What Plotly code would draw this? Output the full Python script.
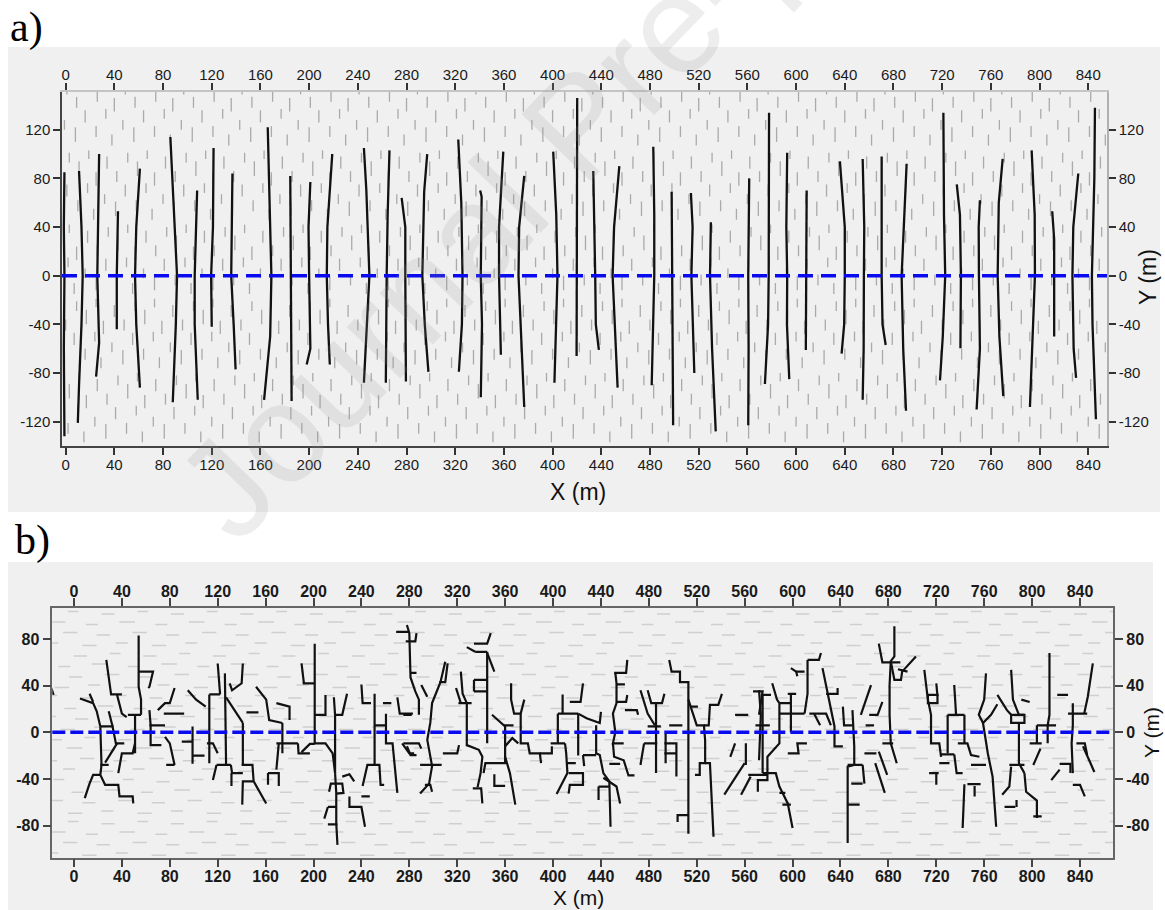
import plotly.graph_objects as go

W, H = 1165, 910

# ---------------- data ----------------
X_TICKS = [0, 40, 80, 120, 160, 200, 240, 280, 320, 360, 400, 440, 480, 520,
           560, 600, 640, 680, 720, 760, 800, 840]
X_TICK_TEXT = [str(v) for v in X_TICKS]
Y_TICKS_A = [120, 80, 40, 0, -40, -80, -120]
Y_TICK_TEXT_A = ["120", "80", "40", "0", "-40", "-80", "-120"]
Y_TICKS_B = [80, 40, 0, -40, -80]
Y_TICK_TEXT_B = ["80", "40", "0", "-40", "-80"]
BASELINE_Y = 0

# panel a: long sub-vertical fractures (x, y) in metres
FRACTURES_A = [
    [(-1, 85), (-1.5, 40), (-1, 0), (-1.5, -60), (-1, -132)],
    [(11, 86), (13, 40), (14, 0), (13, -40), (11, -90), (10, -121)],
    [(27.5, 100), (26.5, 40), (26, 0), (27.5, -55), (25, -83)],
    [(43, 53), (42, 0), (42, -44)],
    [(61, 88), (58, 40), (57, 0), (58, -40), (61, -92)],
    [(86, 114), (87.5, 80), (91.5, 0), (90.5, -40), (88, -104)],
    [(108, 70), (106, 0), (106, -40), (108.5, -102)],
    [(121.5, 105), (121, 40), (119.5, 0), (120, -42)],
    [(137, 84), (136, 0), (138, -40), (139.6, -77)],
    [(166, 122), (167, 80), (169, 0), (168, -50), (163, -102)],
    [(184.5, 82), (185, 0), (185.6, -103)],
    [(201, 77), (199.5, 40), (200, 0), (201, -60), (198, -73)],
    [(219, 100), (215, 40), (214.5, 0), (215.5, -40), (217, -73)],
    [(245, 105), (247, 70), (249.5, 0), (247.5, -40), (245, -88)],
    [(266, 103), (264.5, 50), (263.7, 0), (263.5, -40), (263, -88)],
    [(276, 64), (279, 40), (279, 0), (279.5, -87)],
    [(297, 100), (294.5, 69), (293, 0), (295, -40), (298, -79)],
    [(322.5, 112), (325, 60), (326, 0), (325.5, -40), (323, -79)],
    [(340.5, 70), (341.7, 65), (341, 0), (342, -40), (341, -100)],
    [(359.5, 102), (356, 40), (356, 0), (357.5, -65)],
    [(376.7, 82), (372.5, 40), (372, 0), (374, -50), (376.7, -108)],
    [(400.5, 102), (403, 50), (404, 0), (402.5, -50), (401.5, -88)],
    [(420.2, 146), (420, 60), (420.2, 0), (419.7, -66)],
    [(433.4, 86), (434.5, 40), (435, 0), (435.5, -40), (438, -61)],
    [(454.8, 90), (450.5, 40), (449.3, 0), (451, -40), (453.4, -92)],
    [(482.7, 106), (483.5, 50), (483.5, 0), (482.5, -50), (481.4, -90)],
    [(497.8, 69), (498.3, 0), (499, -60), (499, -123)],
    [(513.6, 68), (515, 40), (514, 0), (515, -40), (516.4, -80)],
    [(530, 44), (529.3, 0), (531, -60), (534, -128)],
    [(561.5, 80), (560.7, 0), (561, -60), (560.7, -123)],
    [(577.8, 134), (577.8, 50), (577.5, 0), (577, -40), (575, -80), (574.4, -89)],
    [(592.7, 101), (592, 40), (592.7, 0), (592.5, -40), (594.4, -85)],
    [(608.7, 70), (608, 0), (608, -61)],
    [(636, 94), (638, 70), (640, 40), (640, 0), (639.5, -40), (637.4, -64)],
    [(654.7, 96), (656, 40), (655.7, 0), (655.5, -60), (654.7, -102)],
    [(670.3, 98), (670, 40), (670.3, 0), (671, -40), (673.6, -57)],
    [(690.8, 92), (688.5, 40), (686.7, 0), (688, -60), (690.3, -111)],
    [(721, 134), (721.5, 50), (722.5, 0), (720.5, -50), (718.2, -86)],
    [(732, 75), (734.6, 50), (735.4, 0), (735, -59.7)],
    [(751, 62), (750, 40), (750.2, 0), (751, -60), (748.3, -110)],
    [(769.7, 96), (766.5, 60), (765.6, 0), (767, -50), (770.2, -99)],
    [(793.5, 103), (796, 50), (796.2, 0), (794, -60), (792.1, -108)],
    [(810.4, 53), (812, 30), (812, 0), (812, -50)],
    [(831.8, 84), (827.7, 40), (827, 0), (828, -60), (830, -84)],
    [(845.5, 138), (845, 80), (843, 0), (843.5, -40), (846.3, -118)],
]

# panel b: branching fracture network (x, y) in metres
NETWORK_B = [
    [(-19, 38), (-17, 32)],
    [(5, 29), (16, 25), (19, 18), (22, 5)],
    [(13, 33), (16, 26)],
    [(27, 62), (31, 32.5), (40, 32.5)],
    [(36, 32), (40, 16), (44, 13)],
    [(29, 18), (32, 6)],
    [(22, 5), (33, 5)],
    [(22, 5), (23, -28)],
    [(32, 6), (35, -9.5), (42, -9.5)],
    [(22, -28), (29, -28)],
    [(22, -36.5), (16, -36.5), (13, -44), (9, -56.5)],
    [(23, -28), (22, -36.5), (26, -45), (37, -45), (38, -55), (49, -55), (49.5, -61)],
    [(37, -35), (40, -18), (49, -18), (51, -9.5)],
    [(36, -9.5), (26, -26)],
    [(51, 15), (51, -18)],
    [(45, 15), (56, 15)],
    [(54, 83), (54, 39), (56, 28), (56, 15)],
    [(54, 52), (66, 52), (63, 39), (62, 38)],
    [(63, 19), (64, 6), (64, -11), (73, -11)],
    [(63, 6), (76, 6)],
    [(70, 19), (76, 25), (80, 25), (84, 38)],
    [(75, 16), (92, 16)],
    [(76, -4), (80, -9.5), (84, -28)],
    [(77, -28), (84, -28)],
    [(90, -8), (99, -8)],
    [(99, 5), (99, -27)],
    [(99, -20), (109, -20)],
    [(95, 36), (102, 28), (110, 22)],
    [(113, 32.5), (113, -26.5)],
    [(113, 32.5), (122, 32.5)],
    [(120, 59), (122, 32.5)],
    [(111, -9.5), (116, -9.5), (120, -18)],
    [(126, 50.5), (127, -28)],
    [(130, 42), (132, 36), (140, 42), (141, 59)],
    [(127, 30), (141, 8)],
    [(141, 8), (141, -28)],
    [(144, 17), (154, 17)],
    [(119, -28), (131, -28)],
    [(116, -41), (119, -28)],
    [(131, -28), (132, -35), (141, -35)],
    [(131.5, -35), (131.5, -46)],
    [(140, -28), (149, -28), (150, -42)],
    [(150, -42), (155, -51), (160.5, -61)],
    [(150, -42), (141, -42), (140.5, -62)],
    [(152, 39), (160.5, 28), (163, 10.5), (174, 8)],
    [(169, 25), (180, 22), (180, 10.5)],
    [(174, 8), (174, -18)],
    [(169, -9.5), (187, -9.5)],
    [(171, -9.5), (169, -32)],
    [(162, -35), (171, -35), (171, -46)],
    [(162, -35), (162, -45)],
    [(187, -9.5), (187.5, -18), (197, -18)],
    [(190, -17), (197, -10), (201, -10)],
    [(201, 76), (201, -9.5), (210, -9.5), (216, -18), (218, -35)],
    [(191, 42), (201, 42)],
    [(190, 59), (192, 42)],
    [(201, 15), (210, 15), (210, 32)],
    [(217, 30), (218, 15), (224, 15), (228, 33)],
    [(218, 15), (218, -35)],
    [(213, -51), (214.5, -44), (224, -44), (225, -52), (219, -52.5)],
    [(224, -38), (230, -36), (234, -42)],
    [(218, -35), (219, -52), (219, -78), (220, -96.5)],
    [(212, -64), (219, -64)],
    [(209, -74), (212, -64)],
    [(212, -79), (220, -79)],
    [(230, -55), (230, -64), (240, -64), (243, -81)],
    [(240, -55), (247, -55)],
    [(241, -46), (245, -28), (255, -28), (256, -45), (259, -45)],
    [(240, 41), (241, 25), (248, 25)],
    [(251, 33), (251, 6), (251, -28)],
    [(251, 6), (260, 6)],
    [(258, 25), (265, 25)],
    [(260.5, 16), (260.5, -9.5), (266, -9.5), (270, -52)],
    [(270, 30), (272, 16), (283, 16)],
    [(269, 86), (279, 86)],
    [(274, -9.5), (280, -18), (284, -18)],
    [(278, 92), (280, 85), (281, 47), (285, 35), (288, 28), (288, 15)],
    [(277, 78), (285, 78), (286, 85)],
    [(281, 51), (286, 51)],
    [(275, -9.5), (288, -9.5), (290, -14)],
    [(278, -12), (281, -19.5), (286, -19.5)],
    [(275, 15), (282, 15)],
    [(310, 60.5), (306, 43), (299, 25), (297.5, 8), (295, -6.5), (299, -29), (296.5, -44), (289, -52.5)],
    [(290, 40.5), (295, 30.5)],
    [(289, -28), (307, -28)],
    [(308, -18), (320, -18), (321.5, -11)],
    [(293, -45), (297.5, -45), (299, -51)],
    [(305, 43), (310, 43), (312, 59)],
    [(323, 52), (324.5, 33), (328, 25), (328, -12)],
    [(321, 25), (332, 25)],
    [(319, 38), (323, 25)],
    [(328, -11), (338, -15), (341, -21), (339.5, -35), (337, -47)],
    [(333, -48), (340, -48), (341, -61)],
    [(334, 76), (345, 76), (348, 85)],
    [(345, 69), (345, -9.5)],
    [(335, 69), (345, 69)],
    [(328, 73), (335, 69)],
    [(345, 68), (351, 52)],
    [(334, 45), (345, 45)],
    [(334, 35), (345, 35)],
    [(334, 45), (334, 35)],
    [(349, 15), (360, 5), (360, -26.5), (343.5, -26.5), (342, -35)],
    [(359, 6), (367, 6)],
    [(360, -12), (366, -5), (371, -9.5)],
    [(360, -21), (364, -35), (368.5, -62)],
    [(351, -36), (351, -46), (360, -46)],
    [(365, 42), (365, 28), (367.5, 16), (373, 16), (376, 28)],
    [(373, 16), (373, -9.5), (379, -9.5), (380.5, -18), (389, -18), (390, -26.5)],
    [(389, -18), (399, -18), (399, -12)],
    [(404, 16), (421, 16)],
    [(404, 16), (404, -9.5)],
    [(421, 16), (421, -20)],
    [(398, -9.5), (410, -9.5)],
    [(410, -9.5), (411, -18), (412, -35), (403, -53)],
    [(411, -26.5), (419, -26.5)],
    [(408, 32.5), (408, 16)],
    [(414, 26), (423, 26), (425, 42)],
    [(421, 16), (428, 12), (439, 8), (440, 17.5)],
    [(413, -35), (425, -35), (425, -45), (414, -45), (413, -52.5)],
    [(436, 6), (436, -18), (439, -19.5), (442, -35), (447, -42), (448, -81)],
    [(425, -19.5), (436, -19.5)],
    [(425, -19.5), (426, -29)],
    [(438, -46.5), (438, -58)],
    [(438, -46.5), (447, -46.5)],
    [(442, -39), (453, -46.5), (456, -61)],
    [(451, 51), (461, 51), (462, 62)],
    [(452, 51), (453, 42), (453, 25), (450, 16), (452, 0), (450, -9.5), (459, -9.5)],
    [(453, 41), (460, 41)],
    [(453, 26), (461, 26), (462, 32)],
    [(460, 19), (470, 19), (471, 15)],
    [(450, -9.5), (451, -21), (459, -24), (463, -37), (468, -37)],
    [(447, -27), (456, -27)],
    [(473, 36), (479, 16), (485, 6)],
    [(479, 36), (482, 25), (491, 25), (493, 33)],
    [(486, 25), (486, 5), (486, -9.5), (486, -35)],
    [(479, 5), (490, 5)],
    [(476, -9.5), (473, -28)],
    [(476, -9.5), (487, -9.5)],
    [(493, -9.5), (503, -9.5), (503, -38)],
    [(493, -18), (503, -18)],
    [(494, -1), (494, -26.5)],
    [(497, 6), (508, 6)],
    [(497, 62), (499, 52), (506, 52), (506, 43), (513, 43), (513, 28), (513, 8), (513, -87)],
    [(513, -71), (504, -71), (504, -77)],
    [(513, 28), (517, 16), (520, 6), (526, 6), (527, -7), (527, -26.5), (522.5, -26.5), (522.5, -36.5), (518.5, -36.5)],
    [(527, -26.5), (531, -26.5), (534, -89.5)],
    [(526, 6), (530, 6), (531, 23.5), (538, 23.5), (541, 33)],
    [(514.5, 22), (521, 22)],
    [(552, -9.5), (548, -21)],
    [(561, -9.5), (561, -28)],
    [(552, 15), (563, 15)],
    [(567, 35), (575, 35), (572, 15)],
    [(560, -26.5), (543, -53.5)],
    [(563, -36.5), (579, -36.5)],
    [(565, -38), (557, -53.5)],
    [(569, 6), (581, 6)],
    [(572, 36), (573.5, 15), (572, -24)],
    [(573.5, 32), (582, 32)],
    [(575, 32), (575, -35)],
    [(575, -35), (579, -35), (579, -41), (571, -41), (571, -51)],
    [(583, 42), (587, 28), (589, 25)],
    [(589, 25), (598.6, 25)],
    [(596, 33), (603, 33)],
    [(598.6, 33), (598.6, 0)],
    [(589, 16), (610, 16)],
    [(589, 25), (589, -9.5), (579, -21), (579, -35)],
    [(596, -18), (605, -18), (604, -9.5), (612, -9.5)],
    [(579, -35), (586, -35), (589, -46.5), (596, -61), (600, -82)],
    [(589, -52), (594, -52)],
    [(591.5, -62), (598.6, -62)],
    [(598.6, 55), (603, 52), (604, 48)],
    [(603, 52), (610, 52)],
    [(612.5, 62), (612.5, 33), (610, 16)],
    [(612.5, 62), (622, 62), (623.7, 68)],
    [(614, 16), (628, 16), (632, 6)],
    [(618, 16), (623, 6)],
    [(625, 55), (630.6, 26), (633, 15), (635, 5), (635, -12), (642, -12)],
    [(628, 33), (637.6, 33), (637.6, 38)],
    [(642, 22), (643, 6), (650, 6)],
    [(650, 19), (651.5, -12), (651.5, -28), (646, -29.5), (646, -95)],
    [(646, -28), (658.5, -28)],
    [(646, -62), (656, -62)],
    [(649, -44), (658.5, -44)],
    [(658.5, -28), (660, -44)],
    [(657, 15), (665.5, 40.5)],
    [(661, 6), (668, 6)],
    [(664, 15), (671, 15), (675, 26)],
    [(660, -18), (670, -18)],
    [(669, -26.5), (677, -52)],
    [(672, -16.5), (679, -36.5)],
    [(685, 91), (685, 65), (682, 61), (681, 40.5), (681, 15), (682, -9.5), (687, -26.5)],
    [(672, 76), (675, 60), (690, 60)],
    [(682, 61), (685, 45), (690.5, 45), (691.5, 52), (703, 65)],
    [(688, 54), (696, 52)],
    [(675, -9.5), (684, -9.5)],
    [(710, 53.5), (713, 28), (715.6, 15), (715.6, -9.5), (722.5, -9.5), (724, -21)],
    [(713, 32), (721, 32), (721, 25), (713, 25), (713, 32)],
    [(720, 42), (721, 31)],
    [(729.5, 15), (729.5, -18)],
    [(729.5, 15), (743.5, 15)],
    [(735, 40.5), (736.5, 15)],
    [(743.5, 15), (743.5, -9.5)],
    [(738, -9.5), (746, -9.5), (749, -19.5), (756, -21)],
    [(724, -19), (735, -19)],
    [(722.5, -26.5), (731, -26.5)],
    [(714, -35), (722, -35)],
    [(720, -35), (720, -45)],
    [(735, -19), (737, -35), (742, -35)],
    [(761.5, 50.5), (760, 28), (755.5, 15), (759, 8), (763, -18), (767, -38), (770, -81)],
    [(771, 24), (765.7, 15), (759, 8)],
    [(749, -28), (761.5, -28)],
    [(746, -44.5), (757, -44.5)],
    [(743.5, -44.5), (742, -82)],
    [(752, -46), (752, -55)],
    [(782.5, 53.5), (784, 28), (789, 15), (793.6, 15)],
    [(771, 32), (779, 19), (782.5, 15)],
    [(782.5, 15), (793.6, 15), (793.6, 8), (782.5, 8), (782.5, 15)],
    [(791, 28), (798, 26)],
    [(789, 8), (789, -26.5), (793.6, -35)],
    [(781, -28), (793.6, -28)],
    [(793.6, -35), (795, -51), (804, -58.5), (804, -73.5)],
    [(782.5, -29.5), (781, -46.5), (775, -53.5)],
    [(777, -64), (786, -64)],
    [(787, -58), (787, -64)],
    [(801, -72), (808, -72)],
    [(798, -9.5), (808, -9.5)],
    [(814.5, 68), (814.5, 15), (813, 6), (813, -9.5)],
    [(804, 6), (820, 6)],
    [(804, 6), (804, -9.5)],
    [(821, 32), (830, 32)],
    [(807, -14), (801, -28)],
    [(834, 25), (834, 6), (833, -9.5), (834, -35)],
    [(830, 16), (846, 16)],
    [(837, -9.5), (844, -9.5), (846, -19.5)],
    [(850.7, 59), (846.5, 30.5), (843.5, 16)],
    [(823, -32), (816, -41)],
    [(834, -45), (840, -45), (844, -55)],
    [(823, -27), (832, -27), (832, -35)],
    [(842.5, -12), (852, -34)],
]

# background texture motifs (dx, dy, length) in metres, repeated as tiles
TEXTURE_A = [(1, 3, 9), (3, 31, 11), (10, 16, 8), (12, 45, 10), (19, 6, 12),
             (20, 34, 9), (27, 22, 10), (29, 50, 8), (36, 10, 9), (37, 39, 12),
             (44, 25, 8), (45, 53, 7)]
TEXTURE_A_SHIFT = [0, 17, 31, 9, 25, 40]
TEXTURE_B = [(2, 2, 12), (30, 4, 10), (14, 11, 11), (44, 13, 12), (5, 20, 10),
             (33, 22, 13), (18, 29, 11), (48, 31, 9)]
TEXTURE_B_SHIFT = [0, 23, 11, 37, 5]

# ---------------- geometry ----------------
XR_A, YR_A = [-3.0, 855.4], [-140.0, 151.0]
XR_B, YR_B = [-18.1, 867.8], [-107.5, 106.8]
DOM_XA = [62 / W, 1107 / W]
DOM_YA = [1 - 446 / H, 1 - 92 / H]
DOM_XB = [52.3 / W, 1113.3 / W]
DOM_YB = [1 - 857.7 / H, 1 - 607.7 / H]


def polylines(lines):
    xs, ys = [], []
    for ln in lines:
        for x, y in ln:
            xs.append(x)
            ys.append(y)
        xs.append(None)
        ys.append(None)
    return xs, ys


def texture(motif, tw, th, shifts, xr, yr, vertical):
    xs, ys = [], []
    row = 0
    y0 = yr[0] - th
    while y0 < yr[1]:
        x0 = xr[0] - tw + shifts[row % len(shifts)]
        while x0 < xr[1]:
            for dx, dy, L in motif:
                x, y = x0 + dx, y0 + dy
                if vertical:
                    xs += [x, x, None]
                    ys += [y, y + L, None]
                else:
                    xs += [x, x + L, None]
                    ys += [y, y, None]
            x0 += tw
        y0 += th
        row += 1
    return xs, ys


fig = go.Figure()

# panel a
tx, ty = texture(TEXTURE_A, 48, 61, TEXTURE_A_SHIFT, XR_A, YR_A, True)
fig.add_trace(go.Scatter(x=tx, y=ty, mode="lines", xaxis="x", yaxis="y",
                         line=dict(color="#aaaaaa", width=1.3),
                         hoverinfo="skip", showlegend=False))
fx, fy = polylines(FRACTURES_A)
fig.add_trace(go.Scatter(x=fx, y=fy, mode="lines", xaxis="x", yaxis="y",
                         line=dict(color="#111111", width=2.3),
                         hoverinfo="skip", showlegend=False))
fig.add_trace(go.Scatter(x=[None], y=[None], xaxis="x2", yaxis="y2",
                         hoverinfo="skip", showlegend=False))

# panel b
tx, ty = texture(TEXTURE_B, 58, 36, TEXTURE_B_SHIFT, XR_B, YR_B, False)
fig.add_trace(go.Scatter(x=tx, y=ty, mode="lines", xaxis="x3", yaxis="y3",
                         line=dict(color="#cfcfcf", width=1.5),
                         hoverinfo="skip", showlegend=False))
nx, ny = polylines(NETWORK_B)
fig.add_trace(go.Scatter(x=nx, y=ny, mode="lines", xaxis="x3", yaxis="y3",
                         line=dict(color="#111111", width=2.2),
                         hoverinfo="skip", showlegend=False))
fig.add_trace(go.Scatter(x=[None], y=[None], xaxis="x4", yaxis="y4",
                         hoverinfo="skip", showlegend=False))

fa = dict(family="Liberation Sans, Arial, sans-serif", size=15, color="#1a1a1a")
fb = dict(family="Liberation Sans, Arial, sans-serif", size=16, color="#1a1a1a",
          weight="bold")

common = dict(showgrid=False, zeroline=False, ticks="outside", tickwidth=1.5,
              showline=True, linewidth=1.5)
ax_a = dict(ticklen=7, tickcolor="#333", tickfont=fa, ticklabelstandoff=-3, **common)
ay_a = dict(ticklen=7, tickcolor="#333", tickfont=fa, **common)
ax_b = dict(ticklen=8, tickcolor="#444", linecolor="#666", tickfont=fb,
            ticklabelstandoff=-5, **common)
ay_b = dict(ticklen=8, tickcolor="#444", linecolor="#666", tickfont=fb, **common)

fig.update_layout(
    width=W, height=H, margin=dict(l=0, r=0, t=0, b=0),
    paper_bgcolor="white", plot_bgcolor="rgba(0,0,0,0)",
    xaxis=dict(domain=DOM_XA, range=XR_A, anchor="y", side="bottom",
               tickvals=X_TICKS, ticktext=X_TICK_TEXT, linecolor="#444", **ax_a),
    xaxis2=dict(domain=DOM_XA, range=XR_A, anchor="y", overlaying="x", side="top",
                tickvals=X_TICKS, ticktext=X_TICK_TEXT, linecolor="#c4c4c4", **ax_a),
    yaxis=dict(domain=DOM_YA, range=YR_A, anchor="x", side="left",
               tickvals=Y_TICKS_A, ticktext=Y_TICK_TEXT_A, linecolor="#444", **ay_a),
    yaxis2=dict(domain=DOM_YA, range=YR_A, anchor="x", overlaying="y", side="right",
                tickvals=Y_TICKS_A, ticktext=Y_TICK_TEXT_A, linecolor="#b0b0b0", **ay_a),
    xaxis3=dict(domain=DOM_XB, range=XR_B, anchor="y3", side="bottom",
                tickvals=X_TICKS, ticktext=X_TICK_TEXT, **ax_b),
    xaxis4=dict(domain=DOM_XB, range=XR_B, anchor="y3", overlaying="x3", side="top",
                tickvals=X_TICKS, ticktext=X_TICK_TEXT, **ax_b),
    yaxis3=dict(domain=DOM_YB, range=YR_B, anchor="x3", side="left",
                tickvals=Y_TICKS_B, ticktext=Y_TICK_TEXT_B, **ay_b),
    yaxis4=dict(domain=DOM_YB, range=YR_B, anchor="x3", overlaying="y3", side="right",
                tickvals=Y_TICKS_B, ticktext=Y_TICK_TEXT_B, **ay_b),
)

shapes = [
    dict(type="rect", xref="paper", yref="paper", x0=8 / W, x1=1160 / W,
         y0=1 - 512 / H, y1=1 - 47 / H, fillcolor="#f0f0f0", line_width=0,
         layer="below"),
    dict(type="rect", xref="paper", yref="paper", x0=8 / W, x1=1153 / W,
         y0=0, y1=1 - 562 / H, fillcolor="#f0f0f0", line_width=0, layer="below"),
    dict(type="line", xref="x domain", yref="y", x0=0, x1=1, y0=BASELINE_Y,
         y1=BASELINE_Y, line=dict(color="#0a0af0", width=3.5, dash="15px,8px")),
    dict(type="line", xref="x3 domain", yref="y3", x0=0, x1=1, y0=BASELINE_Y,
         y1=BASELINE_Y, line=dict(color="#0a0af0", width=3.5, dash="13px,5px")),
]
fig.update_layout(shapes=shapes)

title_font = dict(family="Liberation Sans, Arial, sans-serif", size=23, color="#111")
title_font_b = dict(family="Liberation Sans, Arial, sans-serif", size=21, color="#111")
serif = dict(family="Liberation Serif, Times New Roman, serif", size=42, color="#000")
ann = [
    dict(text="Journal Pre-proof", x=578 / W, y=1 - 125 / H, xanchor="center",
         yanchor="middle", textangle=-46,
         font=dict(family="Liberation Sans, Arial, sans-serif", size=140,
                   color="rgba(150,150,150,0.17)")),
    dict(text="a)", x=8 / W, y=1 - 27 / H, xanchor="left", yanchor="middle",
         font=serif),
    dict(text="b)", x=13 / W, y=1 - 540 / H, xanchor="left", yanchor="middle",
         font=serif),
    dict(text="X (m)", x=578 / W, y=1 - 492 / H, xanchor="center",
         yanchor="middle", font=title_font),
    dict(text="Y (m)", x=1148 / W, y=1 - 277 / H, xanchor="center",
         yanchor="middle", textangle=-90, font=title_font),
    dict(text="X (m)", x=578 / W, y=1 - 897 / H, xanchor="center",
         yanchor="middle", font=title_font_b),
    dict(text="Y (m)", x=1151 / W, y=1 - 733 / H, xanchor="center",
         yanchor="middle", textangle=-90, font=title_font_b),
]
for a in ann:
    a.setdefault("xref", "paper")
    a.setdefault("yref", "paper")
    a.setdefault("showarrow", False)
fig.update_layout(annotations=ann)

fig.write_html("out.html")
